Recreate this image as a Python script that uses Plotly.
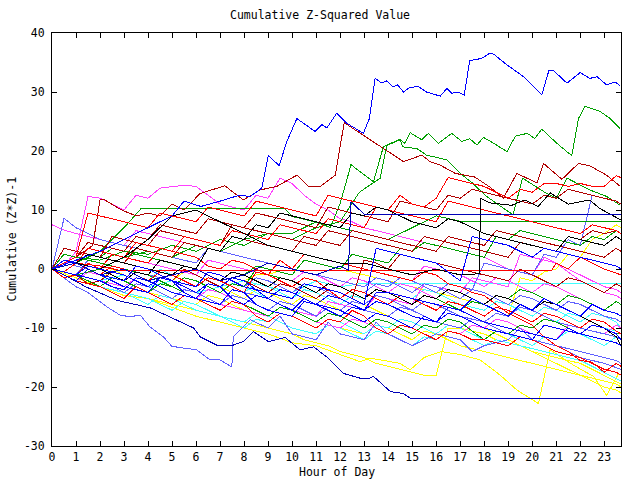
import plotly.graph_objects as go

# ---- data -------------------------------------------------------------
HALF = [i * 0.5 for i in range(48)] + [23.7]
X_TICKS = list(range(0, 24))
Y_TICKS = [-30, -20, -10, 0, 10, 20, 30, 40]

# detailed series (own hour lists)
blue_top_h = [0, 1, 2, 3, 4, 5, 5.5, 6.2, 7, 7.8, 8.25, 8.74, 9.01, 9.46, 9.78, 10.2, 10.96, 11.24, 11.45, 11.86,
              12.28, 12.97, 13.22, 13.46, 13.74, 13.95, 14.2, 14.4, 14.64, 14.9, 15.26, 15.6, 16.17, 16.45, 16.65,
              16.9, 17.17, 17.4, 17.9, 18.25, 18.4, 18.95, 19.64, 20.4, 20.7, 20.9, 21.45, 22.0, 22.4, 22.7, 23.1,
              23.46, 23.67]
blue_top_v = [0, 1.5, 3, 5, 7, 9, 11.5, 10.6, 11.5, 12.5, 12.3, 13.7, 19.3, 17.5, 21.6, 25.5, 23.3, 24.5, 23.9, 26.4,
              24.7, 23, 25.5, 32.3, 31.5, 31.9, 30.9, 31.2, 30, 30.8, 30.9, 30, 29.3, 30.6, 29.8,
              30, 29.5, 35.3, 35.7, 36.6, 36.4, 34.6, 32.6, 29.5, 33.7, 33.6, 31.5, 33.3, 32.3, 32.6, 31.2,
              31.7, 31]

green_top_h = [0, 1, 2, 3, 4, 5, 6, 7, 8, 9, 10, 11, 11.6, 12, 12.28, 12.45, 12.83, 13.39, 13.8, 14.5, 14.7, 14.92,
               15.4, 15.68, 16.1, 16.65, 17.07, 17.4, 17.7, 17.97, 18.4, 18.95, 19.3, 19.8, 20.1, 20.4, 21.03, 21.65,
               21.93, 22.2, 22.83, 23.25, 23.67]
green_top_v = [0, -1, 0, 2, 3, 2, 4, 3, 5, 6, 6, 8, 7, 11.1, 15.1, 17.7, 16.5, 14.8, 20.7, 21.9, 21.3, 23.1,
               21.9, 23, 21.3, 23, 21.6, 22.1, 21, 22.3, 21.3, 19.9, 22.5, 23, 22.1, 23.7, 21.3, 19.2,
               25.5, 27.6, 26.7, 25.5, 23.8]

green_two_h = [0, 1, 2, 3, 4, 5, 6, 7, 8, 9, 10, 11, 12, 12.8, 13.67, 13.95, 14.5, 14.6, 15.2, 15.6, 16.45, 17,
               17.5, 18.1, 18.7, 19.2, 19.6, 20.2, 20.6, 21, 21.45, 22.4, 23.1, 23.67]
green_two_v = [0, 2, 1.5, 3, 2.5, 4, 3, 5, 4, 6, 5, 7, 8, 13, 15.4, 21, 22, 20.7, 20.4, 19.3, 18.5, 16.2,
               14.6, 12.3, 10.6, 9.2, 15.4, 13.9, 12.8, 12, 15.4, 13.4, 12.3, 10.8]

dkred_top_h = [0, 1, 1.7, 2, 2.2, 2.9, 3.5, 4, 4.5, 5, 5.5, 6.17, 7.2, 7.97, 8.67, 9.36, 10.2, 10.68, 11.17, 11.8,
               12.17, 12.83, 14.64, 15.4, 15.75, 16.17, 16.8, 17.6, 18.2, 18.8, 19.36, 20.2, 20.47, 21.24, 21.93,
               22.4, 23.1, 23.67]
dkred_top_v = [0, 2, 4, 11.7, 11.7, 10, 9, 9.5, 9, 11, 10, 12.8, 14.1, 11.7, 13.4, 14, 15.9, 14, 14, 15.9,
               24.8, 23, 18.2, 19.3, 18.2, 17.6, 16.2, 15.6, 14, 12, 16.2, 14.6, 17.9, 15.2, 17.9,
               17.5, 15.9, 14]

dkblue_bottom_h = [0, 0.5, 1.4, 2.7, 4.1, 5.2, 5.9, 6.17, 6.86, 7.55, 7.97, 8.39, 9.01, 9.71, 10.33, 10.9, 11.5,
                   12.14, 12.83, 13.25, 13.39, 14.1, 14.64, 14.92, 23.7]
dkblue_bottom_v = [0, -1, -3, -5.3, -6.6, -8.6, -10, -11.5, -12.9, -12.9, -12.3, -10.6, -12.3, -11.6, -13.7, -13.2,
                   -15.1, -17.7, -18.5, -18.5, -18.2, -20.8, -21.1, -21.9, -21.9]

dkblue_flat_h = [0, 1, 2, 3, 4, 5, 6, 7, 8, 9, 10, 11, 12, 12.35, 12.45, 13, 23.7]
dkblue_flat_v = [0, 1, -1, 0, -2, -1, 0, -2, -1, 1, 0, -1, 0.5, -0.2, 11.4, 9.3, 9.3]

slate_low_h = [0, 0.5, 1, 1.5, 2, 2.28, 2.83, 3.25, 3.67, 4.08, 4.64, 4.99, 5.47, 6.03, 6.58, 7, 7.49, 7.55, 8.25,
               9, 9.5, 10, 11, 11.5, 12, 13, 13.5, 14, 15, 16, 17, 17.5, 18, 19, 19.5, 20, 21, 22, 23, 23.7]
slate_low_v = [0, -1.5, -3, -4, -5.5, -6.4, -7.8, -8.1, -7.8, -9.8, -11.5, -13.1, -13.4, -13.7, -15.4, -15.4, -16.6,
               -11.5, -8.6, -10, -8, -11, -12, -9, -11, -12, -9, -11, -13, -11, -12, -14, -13, -12, -10, -12,
               -13, -15, -16, -17]

yellow_low_h = [0, 1, 2, 3, 4, 5, 6, 7, 8, 9, 10, 11, 12, 12.83, 13.25, 14.5, 14.92, 15.5, 16.2, 17, 17.83, 18.67,
                19.36, 20.26, 20.75, 21.72, 22.55, 23.1, 23.46, 23.6]
yellow_low_v = [0, -1.5, -3, -4.5, -5, -6.5, -8, -9, -10, -11, -12.5, -13, -14.5, -15.7, -15.1, -16, -17.1, -15,
                -14, -14.5, -15.4, -18, -20.5, -22.8, -13.7, -16.3, -18.2, -21.4, -18.8, -17.7]

red_flat_h = [0, 1, 2, 2.9, 20.8, 21, 21.5, 22, 22.5, 23, 23.7]
red_flat_v = [0, 1, 0.5, -0.3, -0.3, 1, 0, 2, 1, 0, -1]

cyan_flat_h = [0, 1, 2, 3, 4, 5, 6, 7, 8, 9, 10, 11, 12, 13, 23.7]
cyan_flat_v = [0, -1, -2, -1, -3, -2, -4, -3, -2, -3, -4, -2, -3, -2.4, -2.4]

green_flat_h = [0, 1, 2, 3, 3.7, 9.7, 10, 11, 12, 13, 14, 15, 16, 17.1, 23.7]
green_flat_v = [0, 1, 3, 7, 10.2, 10.2, 8.9, 8, 7, 6, 5, 7, 9, 8, 8]

black_jump_h = [0, 1, 2, 3, 4, 5, 6, 7, 8, 9, 10, 11, 12, 13, 14, 15, 16, 17, 17.8, 17.85, 18.25, 19.15, 19.7, 20.25,
                20.75, 21.5, 22.4, 22.8, 23.7]
black_jump_v = [0, 1, 0, 2, 5, 9, 10, 8, 6, 4, 3, 2, 1, 1, 0, -1, 0, -1, -0.8, 12, 11.2, 10.8, 11.7, 10.6,
                12.9, 11, 11.7, 10.3, 8.3]

# half-hourly series (values at HALF)
red_a = [0, -0.5, 1, 3.5, 3, 2.5, 2, 4.5, 4, 3.5, 3, 5.5, 5, 4.5, 4, 6.5, 6, 5.5, 5, 7.5, 7, 6.5, 6, 8.5, 8,
         7.5, 7, 10.5, 10, 12.5, 11, 10.5, 12, 15.5, 15, 14.5, 14, 13, 12, 13.5, 13, 14.5, 14.5, 14, 14.5, 14, 14,
         15.8, 15.5]
red_b = [0, -1.5, -1, 1, 0, 2.5, 2, 1.5, 1, 3.5, 3, 2.5, 2, 0.5, 0, 1.5, 1, 0, -1, 1.5, 0, 2.5, 2, 1.5, 1,
         0.5, 0, -0.5, -1, -1.5, -2, -0.5, -1, -2.5, -3, -4, -4.5, -6, -7.5, -8.5, -9.5, -11.5, -13, -14, -15.5,
         -15.8, -17.5, -16, -16.5]
red_c = [0, 1, 2, 9.5, 9, 8.5, 8, 7.5, 7, 9.5, 9, 8.5, 8, 10.5, 10, 9.5, 9, 11.5, 11, 10.5, 10, 9.5, 9, 12.5, 12,
         11.5, 11, 10.5, 10, 9.5, 9, 8.5, 8, 11.5, 11, 10.5, 10, 9.5, 9, 8.5, 8, 7.5, 7, 6.5, 6, 7.5, 7, 6.5, 6]
red_d = [0, -1, -2, -2.5, -3, -4, -5, -3, -4, -5, -6, -4.5, -5, -6, -7, -5.5, -6, -8, -9, -7.5, -8, -9, -10,
         -8.5, -9, -7, -8, -10, -11, -9.5, -10, -11, -12, -10.5, -11, -12, -12, -12.5, -13, -11.5, -12, -13, -14,
         -14.5, -15, -16, -17, -17.5, -18]
red_e = [0, 1.5, 1, 0, -1, 0.5, 0, -1, -2, -0.5, -1, -2, -3, -1.5, -2, -3, -4, -0.5, -1, -2, -3, -1.5, -2, -3.5,
         -5, -3.5, -4, -5, -6, -4.5, -5, -6, -7, -5.5, -6, -7, -8, -6.5, -7, -8, -9, -7.5, -8, -9, -10, -8.5, -9,
         -10.5, -11]

dkred_b = [0, 1, 2, 4.5, 4, 3.5, 3, 5.5, 5, 7.5, 7, 6.5, 6, 8.5, 8, 7.5, 7, 9.5, 9, 8.5, 8, 7.5, 7, 10.5, 10,
           9.5, 9, 8.5, 8, 11.5, 11, 10.5, 10, 12.5, 12, 13.5, 13, 12.5, 12, 11.5, 11, 12.5, 12, 13.5, 13, 12.5, 12,
           11.5, 11]
dkred_c = [0, 1.5, 1, 2.5, 2, 1.5, 1, 3.5, 3, 2.5, 2, 4.5, 4, 3.5, 3, 5.5, 5, 4.5, 4, 3.5, 3, 5.5, 5, 4.5, 4,
           6.5, 6, 5.5, 5, 4.5, 4, 3.5, 3, 5.5, 5, 4.5, 4, 6.5, 6, 5.5, 5, 4.5, 4, 3.5, 3, 2.5, 2, 3.5, 3]
dkred_d = [0, -0.5, -1, -2.5, -2, -0.5, -1, -2, -3, -1.5, -2, 0, -1, -2, -3, -1.5, -2, -3, -4, -2.5, -3, -4, -5,
           -3.5, -4, -5, 1.5, 1, 0, 2.5, 2, 1.5, 1, 0.5, 0, -0.5, -1, -1.5, -2, 0, -1, -2, -3, -1.5, -2, -3, -4,
           -2.5, -3]
dkred_e = [0, 3.5, 3, 2.5, 2, 5.5, 5, 4.5, 4, 6.5, 6, 5.5, 5, 4.5, 4, 7.5, 7, 6.5, 6, 5.5, 5, 4.5, 4, 6.5, 6,
           5.5, 5, 4.5, 4, 3.5, 3, 5.5, 5, 4.5, 4, 3.5, 3, 2.5, 2, 4.5, 4, 3.5, 3, 5.5, 5, 6.5, 6, 6.5, 6]

green_c = [0, -0.5, -1, -2, -3, -1.5, -2, -3, -4, -2.5, -3, -4, -5, -6, -7, -5.5, -6, -7, -8, -6.5, -7, -8, -9,
           -7.5, -8, -9, -10, -8.5, -9, -10, -11, -9.5, -10, -8.5, -9, -10.5, -12, -10.5, -11, -9.5, -10, -8.5, -9,
           -10, -11, -9.5, -10, -11, -11]
green_d = [0, 2.5, 2, 1.5, 1, 0.5, 0, -0.5, -1, -2, -3, -1.5, -2, -3, -4, -2.5, -3, 0, -1, -1.5, -2, -3, -4,
           -2.5, -3, -4, -5, -3.5, -4, -5, -6, -4.5, -5, -6, -7, -5.5, -6, -4.5, -5, -3.5, -4, -5, -6, -4.5, -5,
           -6, -7, -5.5, -6]
green_e = [0, 1.5, 1, 2.5, 2, 3.5, 3, 2.5, 2, 1.5, 1, 0.5, 0, -1, -2, -0.5, -1, 0.5, 0, -0.5, -1, 1.5, 1, 0.5,
           0, 2.5, 2, 1.5, 1, 3.5, 3, 4.5, 4, 3.5, 3, 2.5, 2, 5.5, 5, 6.5, 6, 5.5, 5, 4.5, 4, 5.5, 5, 6.5, 6]

blue_b = [0, -0.5, -1, -1.5, -2, -3, -3.5, -1.5, -2, -3, -4, -4.5, -5, -2.5, -3, -5, -6, -4.5, -5, -6, -7, -5,
          -6, -7, -8, -6.5, -7, -4, -4, -4.5, -5, -5.5, -6, -6.5, -7, -5, -6, -7, -8, -6, -7, -5, -6, -7, -8, -6,
          -7, -7.5, -8]
blue_c = [0, -1, -2, 0, -1, -2, -3, -3.5, -4, -1.5, -2, -4, -5, -5.5, -6, -3.5, -4, -6, -7, -7.5, -8, -5.5, -6,
          -6.5, -7, -8, -9, -7.5, -8, -9, -10, -8, -9, -6.5, -7, -8, -9, -9.5, -10, -10.5, -11, -11.5, -12, -10,
          -11, -9.5, -10, -11, -12]
blue_d = [0, 1.5, 1, 0, -1, -1.5, -2, 0.5, 0, -1, -2, -2.5, -3, -0.5, -1, -2, -3, -3.5, -4, -4.5, -5, -2.5, -3,
          -3.5, -4, -5, -6, 3.5, 3, 2.5, 2, 1.5, 1, -0.5, -2, 5.5, 5, 4.5, 4, 3, 2, 3.5, 3, 2.5, 2, 1.5, 1, 0.5, 0]
blue_e = [0, -0.5, -1, 0.5, 0, -0.5, -1, -2, -3, -1.5, -2, -3, -4, -2.5, -3, -1.5, -2, -3.5, -5, -3.5, -4, -5,
          -6, -4.5, -5, -6, -7, -5.5, -6, -7, -8, -8.5, -9, -7.5, -8, -9, -10, -10.5, -11, -11.5, -12, -9.5, -10,
          -10.5, -11, -11.5, -12, -12.5, -13]

slate_b = [0, 8.6, 7, 6, 5, 4.5, 4, 3.5, 3, 2.5, 2, 1.5, 1, 3.5, 3, 2.5, 2, 1.5, 1, 0.5, 0, -0.5, -1, -1.5, -2,
           -2.5, -3, -1.5, -2, -3, -4, -2.5, -3, -4, -5, -3.5, -4, -5, -6, -4.5, -5, -6, -7, -5.5, -6, -7, -8,
           -8.5, -9]
slate_c = [0, -0.5, -1, -1.5, -2, -3, -4, -2.5, -3, -4, -5, -3.5, -4, -5, -6, -4.5, -5, -6, -7, -5.5, -6, -7,
           -8, -6.5, -7, -5.5, -6, -4.5, -5, -6, -7, -5.5, -6, -7, -8, -8.5, -9, -7.5, -8, -6.5, -7, -8, -9, -9.5,
           -10, -10.5, -11, -11.5, -12]
slate_d = [0, 1, 0.5, 0, -1, -1.5, -2, -0.5, -1, -2, -3, -1.5, -2, -3, -4, -2.5, -3, -1.5, -2, -3, -4, -2.5, -3,
           -4, -5, -3.5, -4, -2.5, -3, -1.5, -2, -3, -4, -2.5, -3, -3.5, 1, 0.5, 0, -0.5, -1, 2.5, 2, 5, 4, 12.5,
           12, 11.5, 11]
slate_e = [0, -0.5, -1, 1.5, 1, 0.5, 0, -0.5, -1, -1.5, -2, -2.5, -3, -1.5, -2, -3, -4, -4.5, -5, -3.5, -4, -5,
           -6, -4.5, -5, -6, -7, -7.5, -8, -6.5, -7, -8, -9, -9.5, -10, -8.5, -9, -10, -11, -11.5, -12, -12.5, -13,
           -13.5, -14, -14.5, -15, -15.5, -16]

mag_a = [0, 0.5, 3, 12.3, 12, 11, 10, 12.5, 12, 13.7, 14, 14.2, 14, 12.5, 11, 10.5, 10, 12.5, 12, 15.4, 14.5,
         12.5, 11, 10, 8.5, 8, 7, 6.5, 6, 5.5, 5, 4.5, 4, 3.5, 3, 2.5, 2, 1, 0, -0.5, -1, 2, 1, -0.5, -2, -3, -4,
         -4.5, -5]
mag_b = [7.5, 6.6, 6, 5.5, 5, 4.5, 4, 6.5, 6, 5.5, 5, 4.5, 4, 3.5, 3, 5.5, 5, 4.5, 4, 3.5, 3, 2.5, 2, 1.5, 1,
         0.5, 0, -0.5, -1, -1.5, -2, 0.5, 0, -0.5, -1, -2, -3, -1.5, -2, -3, -4, -2.5, -3, -4, -5, -6, -7, -5.5, -6]
mag_c = [0, -0.5, -1, -1.5, -2, -2.5, -3, -3.5, -4, -2.5, -3, -4, -5, -5.5, -6, -6.5, -7, -7.5, -8, -6.5, -7, -8,
         -9, -9.5, -10, -8.5, -9, -10, -11, -9.5, -10, -11, -12, -10.5, -11, -9.5, -10, -8.5, -9, -10, -11, -11.5,
         -12, -9.5, -10, -10.5, -11, -9.5, -10]
mag_d = [0, -1, -2, -0.5, -1, -2, -3, -1.5, -2, -3, -4, -4.5, -5, -3.5, -4, -5, -6, -4.5, -5, -6, -7, -7.5, -8,
         -5.5, -6, -6.5, -7, -4.5, -5, -5.5, -6, -2.5, -3, -3.5, -4, -1.5, -2, -2.5, -3, 2.5, 2, 1.5, 1, 0, -1,
         -2, -3, -3.5, -4]
mag_e = [0, 1.5, 1, 0.5, 0, 2.5, 2, 1.5, 1, 0.5, 0, -0.5, -1, 1.5, 1, 0.5, 0, -0.5, -1, -1.5, -2, -0.5, -1, -2,
         -3, -1.5, -2, -3, -4, -2.5, -3, -4, -5, -3.5, -4, -5, -6, -4.5, -5, -3.5, -4, -5, -6, -4.5, -5, -6, -7,
         -7.5, -8]

cyan_b = [0, -1, -2, -2.5, -3, -3.5, -4, -4.5, -5, -6, -7, -5.5, -6, -7, -8, -8.5, -9, -7.5, -8, -9, -10, -10.5,
          -11, -9.5, -10, -11, -12, -10.5, -11, -12, -13, -11.5, -12, -10.5, -11, -12, -13, -12, -12.5, -13,
          -13.5, -14, -14.5, -15, -15.5, -16.5, -17.5, -18.5, -19]
cyan_c = [0, -0.5, -1, -2, -3, -3.5, -4, -5, -6, -4.5, -5, -6, -7, -7.5, -8, -9, -10, -8.5, -9, -7.5, -8, -9,
          -10, -8.5, -9, -10, -11, -9.5, -10, -8.5, -9, -10, -11, -9.5, -10, -11, -12, -10.5, -11, -12, -13,
          -11.5, -12, -10.5, -11, -12, -13, -11.5, -12]
cyan_d = [0, -0.5, -1, 0.5, 0, -1, -2, -0.5, -1, -2, -3, -1.5, -2, -3, -4, -2.5, -3, -4, -5, -3.5, -4, -2.5, -3,
          -4, -5, -3.5, -4, -5, -6, -4.5, -5, -3.5, -4, -5, -6, -6.5, -7, -5.5, -6, -7, -8, -6.5, -7, -8, -9,
          -7.5, -8, -9, -10]
cyan_e = [0, -0.5, -1, -1.5, -2, -2.5, -3, -1.5, -2, 0, -1, -2, -3, -1.5, -2, -3, -4, -2.5, -3, -4, -5, -3.5,
          -4, -5, -6, -4.5, -5, -3.5, -4, -5, -6, -4.5, -5, -6, -7, -5.5, -6, -7, -8, -6.5, -7, -8, -9, -7.5, -8,
          -9, -10, -10.5, -11]

yellow_b = [0, -0.5, -1, -1.5, -2, -3, -4, -4.5, -5, -5.5, -6, -6.5, -7, -7.5, -8, -8.5, -9, -9.5, -10, -10.5,
            -11, -12, -12.5, -13, -14, -14.5, -15, -16, -16.5, -17, -17.5, -18, -18, -10, -10, -10.5, -11, -12,
            -12.5, -13, -14, -14.5, -15, -15.5, -16, -17, -18, -19, -19.5]
yellow_c = [0, -0.5, -1, -1.5, -2, 0, -1, -2, -3, -1.5, -2, -3, -4, -2.5, -3, -4, -5, -3.5, -4, -5, -6, -4.5,
            -5, -6, -7, -5.5, -6, -7, -8, -6.5, -7, -8, -9, -7.5, -8, -9, -10, -11, -12, -13, -14, -15, -16, -17,
            -18, -19, -20, -20.5, -21]
yellow_d = [0, 1.5, 1, 0, -1, 0.5, 0, -0.5, -1, -1.5, -2, -0.5, -1, -2, -3, -1.5, -2, -1, -1, -0.2, -0.2, -0.2,
            -0.2, -0.2, -0.2, -0.5, -1, -1.5, -2, -2.5, -3, -3.5, -4, -4.5, -5, -5.5, -6, -7, -8, -1.5, -2, -0.5,
            0, 2.5, 2, 5, 6, 7.5, 7]
yellow_e = [0, -0.5, -1, -2, -3, -1.5, -2, -3, -4, -4.5, -5, -5.5, -6, -4.5, -5, -6, -7, -7.5, -8, -6.5, -7, -8,
            -9, -9.5, -10, -10.5, -11, -9.5, -10, -11, -12, -10.5, -11, -12, -13, -13.5, -14, -14.5, -15, -15.5,
            -16, -16.5, -17, -17.5, -18, -18.5, -19, -19.5, -20]

black_b = [0, -0.5, -1, 0.5, 0, -1, -2, -0.5, -1, 1.5, 1, 0.5, 0, 3.5, 3, 5.5, 5, 7.5, 7, 9.5, 9, 8.5, 8, 7.5,
           7, 9.5, 9, 10.5, 10, 9, 8, 7.5, 7, 8.5, 8, 7, 6, 5.5, 5, 4.5, 4, 3.5, 3, 5.5, 5, 4.5, 4, 5.5, 5]
black_c = [0, 1.5, 1, 2.5, 2, 1.5, 1, 0.5, 0, -0.5, -1, 0.5, 0, -1, -2, -0.5, -1, -2, -3, -1.5, -2, -3, -4,
           -2.5, -3, -4, -5, -3.5, -4, -5, -6, -4.5, -5, -3.5, -4, -5, -6, -4.5, -5, -6, -7, -5.5, -6, -7, -8, -9,
           -10, -11.5, -13]

# ---- styles -----------------------------------------------------------
RED = "#ff0000"
DKRED = "#b00000"
GREEN = "#00a000"
BLUE = "#0000ff"
DKBLUE = "#0000b8"
SLATE = "#6060ff"
MAG = "#ff40ff"
CYAN = "#40ffff"
YEL = "#ffff00"
BLACK = "#000000"

series = [
    (YEL, HALF, yellow_b), (YEL, HALF, yellow_c), (YEL, HALF, yellow_d), (YEL, HALF, yellow_e),
    (YEL, yellow_low_h, yellow_low_v),
    (CYAN, HALF, cyan_b), (CYAN, HALF, cyan_c), (CYAN, HALF, cyan_d), (CYAN, HALF, cyan_e),
    (CYAN, cyan_flat_h, cyan_flat_v),
    (MAG, HALF, mag_a), (MAG, HALF, mag_b), (MAG, HALF, mag_c), (MAG, HALF, mag_d), (MAG, HALF, mag_e),
    (SLATE, HALF, slate_b), (SLATE, HALF, slate_c), (SLATE, HALF, slate_d), (SLATE, HALF, slate_e),
    (SLATE, slate_low_h, slate_low_v),
    (GREEN, HALF, green_c), (GREEN, HALF, green_d), (GREEN, HALF, green_e),
    (GREEN, green_flat_h, green_flat_v), (GREEN, green_two_h, green_two_v), (GREEN, green_top_h, green_top_v),
    (DKRED, HALF, dkred_b), (DKRED, HALF, dkred_c), (DKRED, HALF, dkred_d), (DKRED, HALF, dkred_e),
    (DKRED, dkred_top_h, dkred_top_v),
    (RED, HALF, red_a), (RED, HALF, red_b), (RED, HALF, red_c), (RED, HALF, red_d), (RED, HALF, red_e),
    (RED, red_flat_h, red_flat_v),
    (BLACK, HALF, black_b), (BLACK, HALF, black_c), (BLACK, black_jump_h, black_jump_v),
    (BLUE, HALF, blue_b), (BLUE, HALF, blue_c), (BLUE, HALF, blue_d), (BLUE, HALF, blue_e),
    (DKBLUE, dkblue_flat_h, dkblue_flat_v), (DKBLUE, dkblue_bottom_h, dkblue_bottom_v),
    (BLUE, blue_top_h, blue_top_v),
]

fig = go.Figure()
for color, xs, ys in series:
    fig.add_trace(go.Scatter(x=xs, y=ys, mode="lines", line=dict(color=color, width=1),
                             showlegend=False, hoverinfo="skip"))

FONT = "DejaVu Sans Mono"
FS = 11.5
axis_common = dict(showline=True, linecolor="black", linewidth=1, mirror="ticks", ticks="inside",
                   ticklen=5, tickcolor="black", showgrid=False, zeroline=False,
                   tickfont=dict(family=FONT, size=FS, color="black"))

fig.update_layout(
    width=640, height=480,
    margin=dict(l=52, r=19, t=33, b=34),
    paper_bgcolor="white", plot_bgcolor="white",
    title=dict(text="Cumulative Z-Squared Value", x=0.5, xanchor="center", y=1 - 15 / 480, yanchor="middle",
               font=dict(family=FONT, size=FS, color="black")),
    xaxis=dict(range=[0, 23.7], tickvals=X_TICKS, ticktext=[str(t) for t in X_TICKS], **axis_common),
    yaxis=dict(range=[-30, 40], tickvals=Y_TICKS, ticktext=[str(t) for t in Y_TICKS],
               ticklabelstandoff=4, **axis_common),
    annotations=[
        dict(text="Hour of Day", xref="paper", yref="paper", x=0.5, y=0, yshift=-26, showarrow=False,
             xanchor="center", yanchor="middle", font=dict(family=FONT, size=FS, color="black")),
        dict(text="Cumulative (Z*Z)-1", xref="paper", yref="paper", x=0, y=0.5, xshift=-41, textangle=-90,
             showarrow=False, xanchor="center", yanchor="middle", font=dict(family=FONT, size=FS, color="black")),
    ],
)

crisp = ("document.querySelectorAll('.scatterlayer path.js-line').forEach(function(p){"
         "p.style.shapeRendering='crispEdges';});")
fig.write_html("out.html", post_script=crisp)
